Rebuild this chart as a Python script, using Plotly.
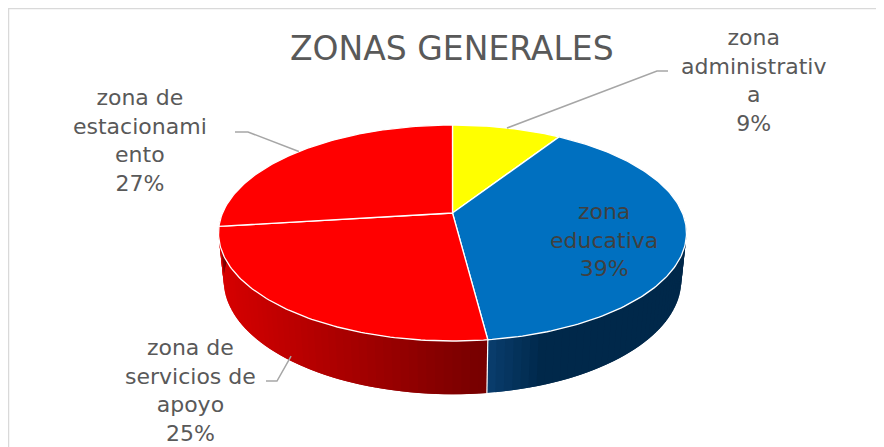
import numpy as np
import plotly.graph_objects as go

# ---- data ----
categories = ["zona administrativa", "zona educativa", "zona de servicios de apoyo", "zona de estacionamiento"]
label_texts = ["zona<br>administrativ<br>a<br>9%", "zona<br>educativa<br>39%",
               "zona de<br>servicios de<br>apoyo<br>25%", "zona de<br>estacionami<br>ento<br>27%"]
values = [9, 39, 25, 27]
top_colors = ["#FFFF00", "#0070C0", "#FF0000", "#FF0000"]
side_light = ["#E0E000", "#0A3F70", "#D80000", "#D80000"]
side_dark = ["#9A9A00", "#00284A", "#760000", "#760000"]

# ---- page / projection geometry (layout) ----
W, H = 884, 447
OFF = 8  # default page body margin
cx, cy = 452.5, 213.0
alpha = np.arcsin(0.4535)
s_a, c_a = np.sin(alpha), np.cos(alpha)
D = 4.81
f = 1106.0
h = 0.231


def proj(frac, Y):
    th = 2 * np.pi * np.asarray(frac)
    X = np.sin(th)
    Z = np.cos(th)
    depth = D - Y * s_a + Z * c_a
    xs = cx + f * X / depth
    ys = cy - f * (Y * c_a + Z * s_a) / depth
    return xs, ys


def hex2rgb(hx):
    hx = hx.lstrip('#')
    return np.array([int(hx[i:i + 2], 16) for i in (0, 2, 4)], dtype=float)


def mix(a, b, t):
    ca, cb = hex2rgb(a), hex2rgb(b)
    c = ca + (cb - ca) * t
    return "rgb(%d,%d,%d)" % tuple(np.round(c).astype(int))


total = float(sum(values))
bounds = np.concatenate([[0], np.cumsum(values)]) / total

fig = go.Figure()

# ---- side walls (front half only) ----
for i in range(len(values)):
    a0, a1 = bounds[i], bounds[i + 1]
    lo, hi = max(a0, 0.25), min(a1, 0.75)
    if hi <= lo:
        continue
    nstrip = max(2, int((hi - lo) * 200))
    edges = np.linspace(lo, hi, nstrip + 1)
    xl, _ = proj(hi, 0.0)
    xr, _ = proj(lo, 0.0)
    xmin, xmax = min(xl, xr), max(xl, xr)
    for k in range(nstrip - 1, -1, -1):
        e0 = edges[max(k - 1, 0)]
        fr = np.linspace(e0, edges[k + 1], 5)
        tx, ty = proj(fr, 0.0)
        bx, by = proj(fr[::-1], -h)
        xm = 0.5 * (tx.mean() + bx.mean())
        t = (xm - xmin) / (xmax - xmin) if xmax > xmin else 0.5
        t = min(max(t, 0.0), 1.0)
        if i == 1:
            t = min(1.0, t / 0.3)
        col = mix(side_light[i], side_dark[i], t)
        fig.add_trace(go.Scatter(
            x=np.concatenate([tx, bx, tx[:1]]), y=np.concatenate([ty, by, ty[:1]]),
            mode="lines", fill="toself", fillcolor=col,
            line=dict(width=0), hoverinfo="skip", showlegend=False))
for b in bounds:
    if 0.3 < b < 0.7:
        ex, ey = proj([b, b], np.array([0.0, -h]))
        fig.add_trace(go.Scatter(x=ex, y=ey, mode="lines",
                                 line=dict(color="white", width=1.2),
                                 hoverinfo="skip", showlegend=False))

# ---- top faces ----
for i in range(len(values)):
    a0, a1 = bounds[i], bounds[i + 1]
    fr = np.linspace(a0, a1, max(4, int((a1 - a0) * 400)))
    ax_, ay_ = proj(fr, 0.0)
    px = np.concatenate([[cx], ax_, [cx]])
    py = np.concatenate([[cy], ay_, [cy]])
    fig.add_trace(go.Scatter(x=px, y=py, mode="lines", fill="toself",
                             fillcolor=top_colors[i],
                             line=dict(color="white", width=1.3),
                             name=categories[i], hoverinfo="name", showlegend=False))

# ---- labels ----
label_pos = [(753, 80), (604, 240), (190, 390), (140, 140)]
label_anchor = [(668, 71), None, (266, 381), (235, 132)]
label_elbow = [(657, 71), None, (277, 381), (248, 132)]
label_Y = [0.0, None, -0.9 * h, 0.0]
for i, txt in enumerate(label_texts):
    fig.add_annotation(x=label_pos[i][0], y=label_pos[i][1], text=txt,
                       showarrow=False, xref="x", yref="y", align="center",
                       font=dict(family="DejaVu Sans", size=22,
                                 color="#595959" if i != 1 else "#404040"))
    if label_anchor[i] is not None:
        mid = 0.5 * (bounds[i] + bounds[i + 1])
        mx, my = proj(mid, label_Y[i])
        fig.add_trace(go.Scatter(
            x=[label_anchor[i][0], label_elbow[i][0], float(mx)],
            y=[label_anchor[i][1], label_elbow[i][1], float(my)],
            mode="lines", line=dict(color="#A6A6A6", width=1.5),
            hoverinfo="skip", showlegend=False))

# ---- title ----
fig.add_annotation(x=452, y=48, text="ZONAS GENERALES", showarrow=False,
                   xref="x", yref="y",
                   font=dict(family="DejaVu Sans", size=33, color="#595959"))

# ---- border ----
fig.add_shape(type="rect", x0=8.5, y0=8.5, x1=W + 20, y1=H + 20, xref="x", yref="y",
              line=dict(color="#D9D9D9", width=1.5), fillcolor="rgba(0,0,0,0)", layer="below")

fig.update_layout(
    width=W - OFF, height=H - OFF, autosize=False,
    margin=dict(l=0, r=0, t=0, b=0),
    paper_bgcolor="white", plot_bgcolor="white",
    xaxis=dict(range=[OFF, W], visible=False, fixedrange=True),
    yaxis=dict(range=[H, OFF], visible=False, fixedrange=True),
    showlegend=False,
)

fig.write_html("out.html")
